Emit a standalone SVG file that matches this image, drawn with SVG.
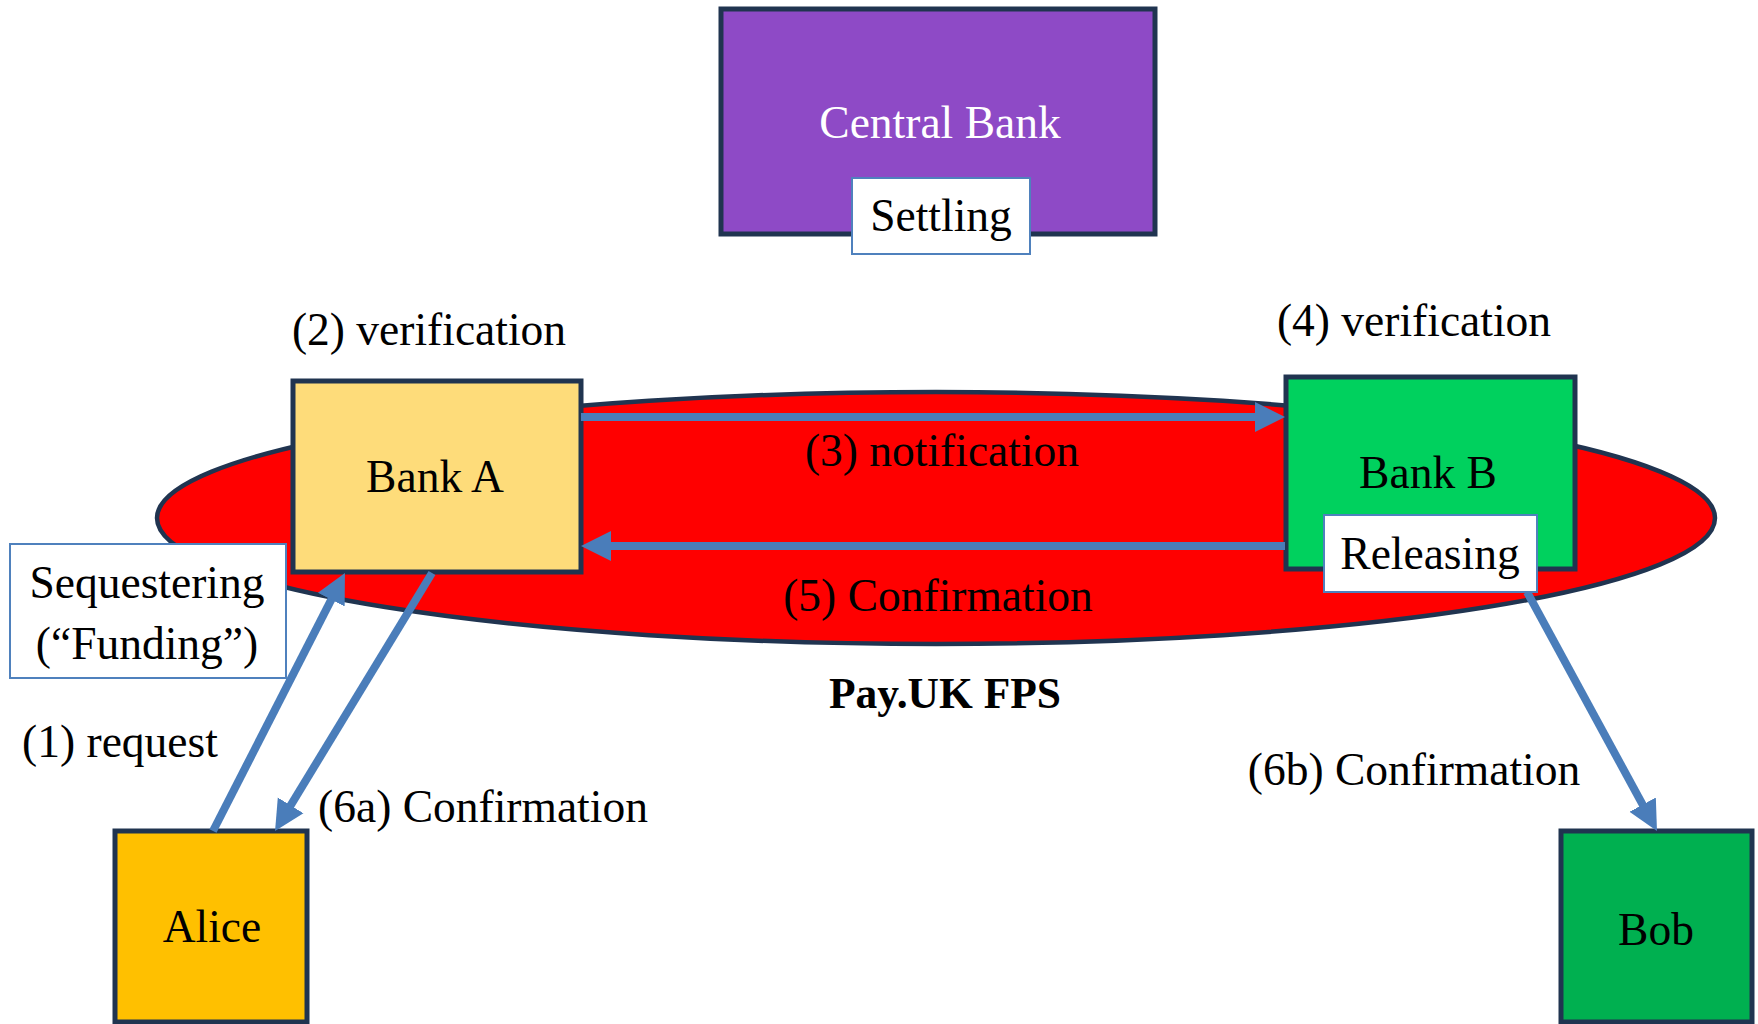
<svg xmlns="http://www.w3.org/2000/svg" width="1758" height="1024" viewBox="0 0 1758 1024">
<style>
.t{font-family:"Liberation Serif","Times New Roman",serif;font-size:45.5px;fill:#000;text-anchor:middle}
.node{stroke:#203450;stroke-width:5}
.lbl{fill:#fff;stroke:#4f81bd;stroke-width:2}
.con{stroke:#4a7dba;stroke-width:8;fill:none;marker-end:url(#ah)}
</style>
<defs>
<marker id="ah" markerUnits="userSpaceOnUse" markerWidth="32" markerHeight="32" viewBox="0 -16 32 32" refX="2" refY="0" orient="auto">
<path d="M0,-15 L30,0 L0,15 z" fill="#4a7dba"/>
</marker>
</defs>
<rect width="1758" height="1024" fill="#fff"/>
<g id="fps">
<ellipse cx="936" cy="518" rx="779" ry="126" fill="#ff0000" stroke="#203450" stroke-width="4.5"/>
<text class="t" x="945" y="708" font-weight="bold" style="font-size:43.5px">Pay.UK FPS</text>
</g>
<g id="central-bank">
<rect class="node" x="721" y="9" width="434" height="225" fill="#8e4ac6"/>
<text class="t" x="940" y="138" style="fill:#fff">Central Bank</text>
</g>
<g id="bank-a">
<rect class="node" x="293" y="381" width="288" height="191" fill="#fedc7a"/>
<text class="t" x="435" y="492">Bank A</text>
</g>
<g id="bank-b">
<rect class="node" x="1286" y="377" width="289" height="192" fill="#00d15e"/>
<text class="t" x="1428" y="488">Bank B</text>
</g>
<g id="alice">
<rect class="node" x="115" y="831" width="192" height="191" fill="#ffc000"/>
<text class="t" x="212" y="942">Alice</text>
</g>
<g id="bob">
<rect class="node" x="1561" y="831" width="191" height="191" fill="#00b050"/>
<text class="t" x="1656" y="945">Bob</text>
</g>
<g id="connectors">
<path class="con" d="M581,417 L1257,417"/>
<path class="con" d="M1285,546 L609,546"/>
<path class="con" d="M213,831 L332.2,597.9"/>
<path class="con" d="M432,573 L289.6,807.1"/>
<path class="con" d="M1527,592 L1643.6,806.4"/>
</g>
<g id="settling">
<rect class="lbl" x="852" y="178" width="178" height="76"/>
<text class="t" x="941" y="231">Settling</text>
</g>
<g id="releasing">
<rect class="lbl" x="1324" y="515" width="213" height="77"/>
<text class="t" x="1430" y="569">Releasing</text>
</g>
<g id="sequestering">
<rect class="lbl" x="10" y="544" width="276" height="134"/>
<text class="t" x="147" y="598">Sequestering</text>
<text class="t" x="147" y="659">(“Funding”)</text>
</g>
<g id="labels">
<text class="t" x="429" y="345">(2) verification</text>
<text class="t" x="1414" y="336">(4) verification</text>
<text class="t" x="942" y="466">(3) notification</text>
<text class="t" x="938" y="611">(5) Confirmation</text>
<text class="t" x="120" y="757">(1) request</text>
<text class="t" x="483" y="822">(6a) Confirmation</text>
<text class="t" x="1414" y="785">(6b) Confirmation</text>
</g>
</svg>
